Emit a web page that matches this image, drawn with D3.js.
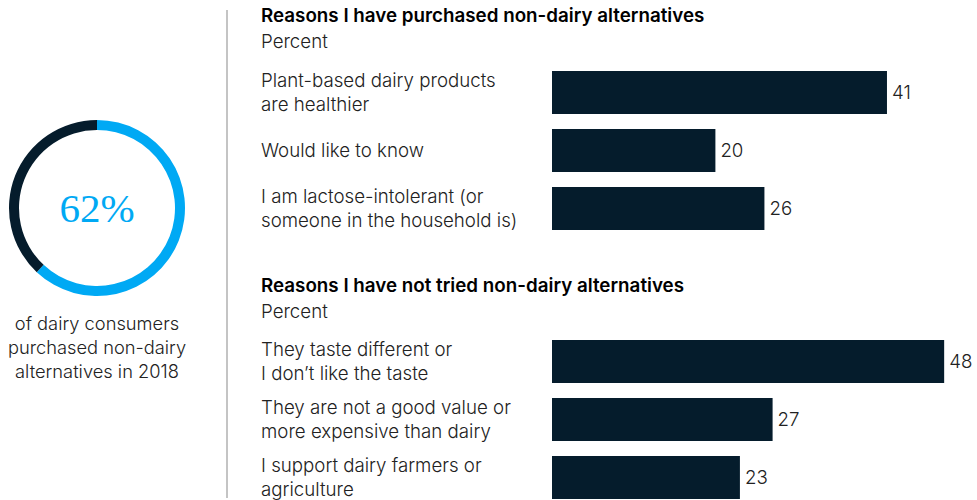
<!DOCTYPE html>
<html>
<head>
<meta charset="utf-8">
<script src="https://cdn.jsdelivr.net/npm/d3@7"></script>
<style>
  html, body { margin: 0; padding: 0; background: #fff; }
  svg { display: block; }
  text { font-family: Inter, "Liberation Sans", Arial, sans-serif; }
</style>
</head>
<body>
<svg id="chart" width="977" height="500"></svg>
<script>
// Share of dairy consumers who bought non-dairy alternatives
const shareValue = 62;
const shareCaption = ["of dairy consumers", "purchased non-dairy", "alternatives in 2018"];

// Reasons for purchasing
const purchasedTitle = "Reasons I have purchased non-dairy alternatives";
const purchasedLabels = [
  ["Plant-based dairy products", "are healthier"],
  ["Would like to know"],
  ["I am lactose-intolerant (or", "someone in the household is)"]
];
const purchasedValues = [41, 20, 26];

// Reasons for not trying
const notTriedTitle = "Reasons I have not tried non-dairy alternatives";
const notTriedLabels = [
  ["They taste different or", "I don\u2019t like the taste"],
  ["They are not a good value or", "more expensive than dairy"],
  ["I support dairy farmers or", "agriculture"]
];
const notTriedValues = [48, 27, 23];

const unitLabel = "Percent";

const navy = "#051c2c";
const blue = "#00a9f4";
const textColor = "#222";
const labelSize = "18.7px";

const svg = d3.select("#chart");

// ---- Donut ----
const cx = 97, cy = 208;
const pie = d3.pie().sort(null).value(d => d);
const arc = d3.arc().innerRadius(78).outerRadius(88);
const donut = svg.append("g").attr("transform", `translate(${cx},${cy})`);
donut.selectAll("path")
  .data(pie([shareValue, 100 - shareValue]))
  .join("path")
  .attr("d", arc)
  .attr("fill", (d, i) => i === 0 ? blue : navy);

donut.append("text")
  .attr("text-anchor", "middle")
  .attr("y", 14)
  .attr("fill", blue)
  .style("font-family", "'Liberation Serif', 'DejaVu Serif', serif")
  .style("font-size", "41px")
  .text(shareValue + "%");

svg.append("g")
  .selectAll("text")
  .data(shareCaption)
  .join("text")
  .attr("x", cx)
  .attr("y", (d, i) => 330 + i * 24)
  .attr("text-anchor", "middle")
  .attr("fill", textColor)
  .style("font-size", "18.3px")
  .style("font-weight", 300)
  .text(d => d);

// ---- Divider ----
svg.append("line")
  .attr("x1", 227).attr("x2", 227)
  .attr("y1", 10).attr("y2", 498)
  .attr("stroke", "#c4c4c4")
  .attr("stroke-width", 2);

// ---- Bar panels ----
const x = d3.scaleLinear().domain([0, 50]).range([552, 552 + 408.5]);
const labelX = 261;

function panel(title, labels, values, titleY, bandTop) {
  const g = svg.append("g");
  g.append("text")
    .attr("x", labelX).attr("y", titleY)
    .attr("fill", "#000")
    .style("font-size", "18.8px")
    .style("font-weight", 600)
    .text(title);
  g.append("text")
    .attr("x", labelX).attr("y", titleY + 26)
    .attr("fill", textColor)
    .style("font-size", labelSize)
    .style("font-weight", 300)
    .text(unitLabel);

  const idx = values.map((d, i) => i);
  const y = d3.scaleBand()
    .domain(idx)
    .range([bandTop, bandTop + 3 * 43 + 2 * 15])
    .paddingInner(15 / 58)
    .paddingOuter(0);

  g.selectAll("rect")
    .data(idx)
    .join("rect")
    .attr("x", x(0))
    .attr("y", i => y(i))
    .attr("width", i => x(values[i]) - x(0))
    .attr("height", y.bandwidth())
    .attr("fill", navy);

  g.selectAll("text.val")
    .data(idx)
    .join("text")
    .attr("class", "val")
    .attr("x", i => x(values[i]) + 5)
    .attr("y", i => y(i) + y.bandwidth() / 2 + 6.5)
    .attr("fill", textColor)
    .style("font-size", labelSize)
    .style("font-weight", 300)
    .text(i => values[i]);

  idx.forEach(i => {
    const lines = labels[i];
    const firstY = lines.length === 1
      ? y(i) + y.bandwidth() / 2 + 6
      : y(i) + 15.5;
    g.append("text")
      .attr("fill", textColor)
      .style("font-size", labelSize)
      .style("font-weight", 300)
      .selectAll("tspan")
      .data(lines)
      .join("tspan")
      .attr("x", labelX)
      .attr("y", (d, j) => firstY + j * 24.5)
      .text(d => d);
  });
}

panel(purchasedTitle, purchasedLabels, purchasedValues, 22, 71);
panel(notTriedTitle, notTriedLabels, notTriedValues, 292, 340);
</script>
</body>
</html>
